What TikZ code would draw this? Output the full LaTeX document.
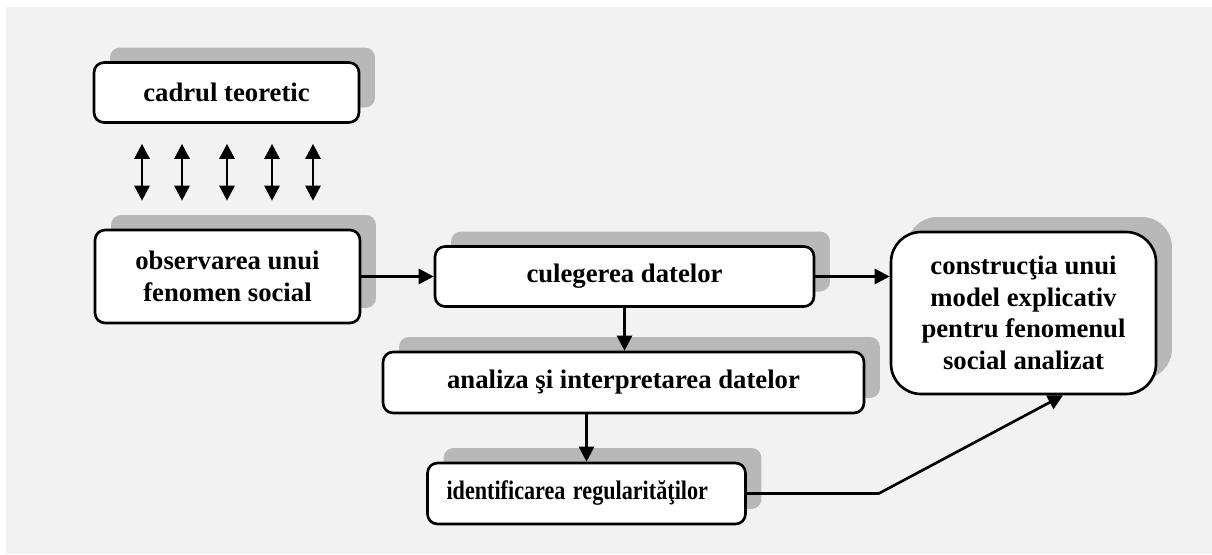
\documentclass[tikz,border=0pt]{standalone}
\usepackage{fontspec}
\usepackage{graphicx}
\setmainfont{Liberation Serif}
\usetikzlibrary{arrows.meta,shadows}
\definecolor{bggray}{HTML}{F2F2F2}
\definecolor{shadowgray}{HTML}{B8B8B8}

\begin{document}
\begin{tikzpicture}[x=0.02cm,y=-0.02cm,
  >={Triangle[length=0.3cm,width=0.3cm]},
  box/.style={draw, line width=1.5pt, fill=white, rounded corners=0.2cm,
    inner sep=0pt, align=center, font=\fontsize{15.2}{18}\selectfont\bfseries,
    drop shadow={shadow xshift=0.32cm, shadow yshift=0.3cm, fill=shadowgray, opacity=1}},
  arr/.style={line width=1.5pt, ->}]
\useasboundingbox (0,0) rectangle (1212,554);
\fill[bggray] (6,7) rectangle (1212,554);

\node[box, minimum width=5.3cm, minimum height=1.2cm] (cadrul) at (226.5,92.5) {cadrul teoretic};
\node[box, minimum width=5.3cm, minimum height=1.86cm] (observ) at (227.5,276.5) {observarea unui\\ fenomen social};
\node[box, minimum width=7.58cm, minimum height=1.2cm] (culeg) at (624.5,276.5) {culegerea datelor};
\node[box, minimum width=9.62cm, minimum height=1.22cm] (analiza) at (623.5,382.5) {analiza şi interpretarea datelor};
\node[box, text width=5.6cm, align=left, inner xsep=0.38cm, minimum height=1.22cm] (ident) at (586.5,493.5)
  {\scalebox{0.83}[1]{identificarea regularităţilor}};
\node[box, rounded corners=0.6cm, minimum width=5.3cm, minimum height=3.24cm] (constr) at (1023.5,313)
  {construcţia unui\\ model explicativ\\ pentru fenomenul\\ social analizat};

% legaturi cadru - observare
\foreach \x in {142,182,227,272,313}
  \draw[arr, <->, shorten <=0.4cm, shorten >=0.56cm] (cadrul.south -| \x,0) -- (observ.north -| \x,0);

\draw[arr] (observ.east) -- (observ.east -| culeg.west);
\draw[arr] (culeg.east) -- (culeg.east -| constr.west);
\draw[arr] (culeg.south) -- (culeg.south |- analiza.north);
\draw[arr] (analiza.south -| ident.north) -- (ident.north);
\draw[arr] (ident.east) -- ++(132,0) -- (constr.south -| 1063,0);

\end{tikzpicture}
\end{document}
